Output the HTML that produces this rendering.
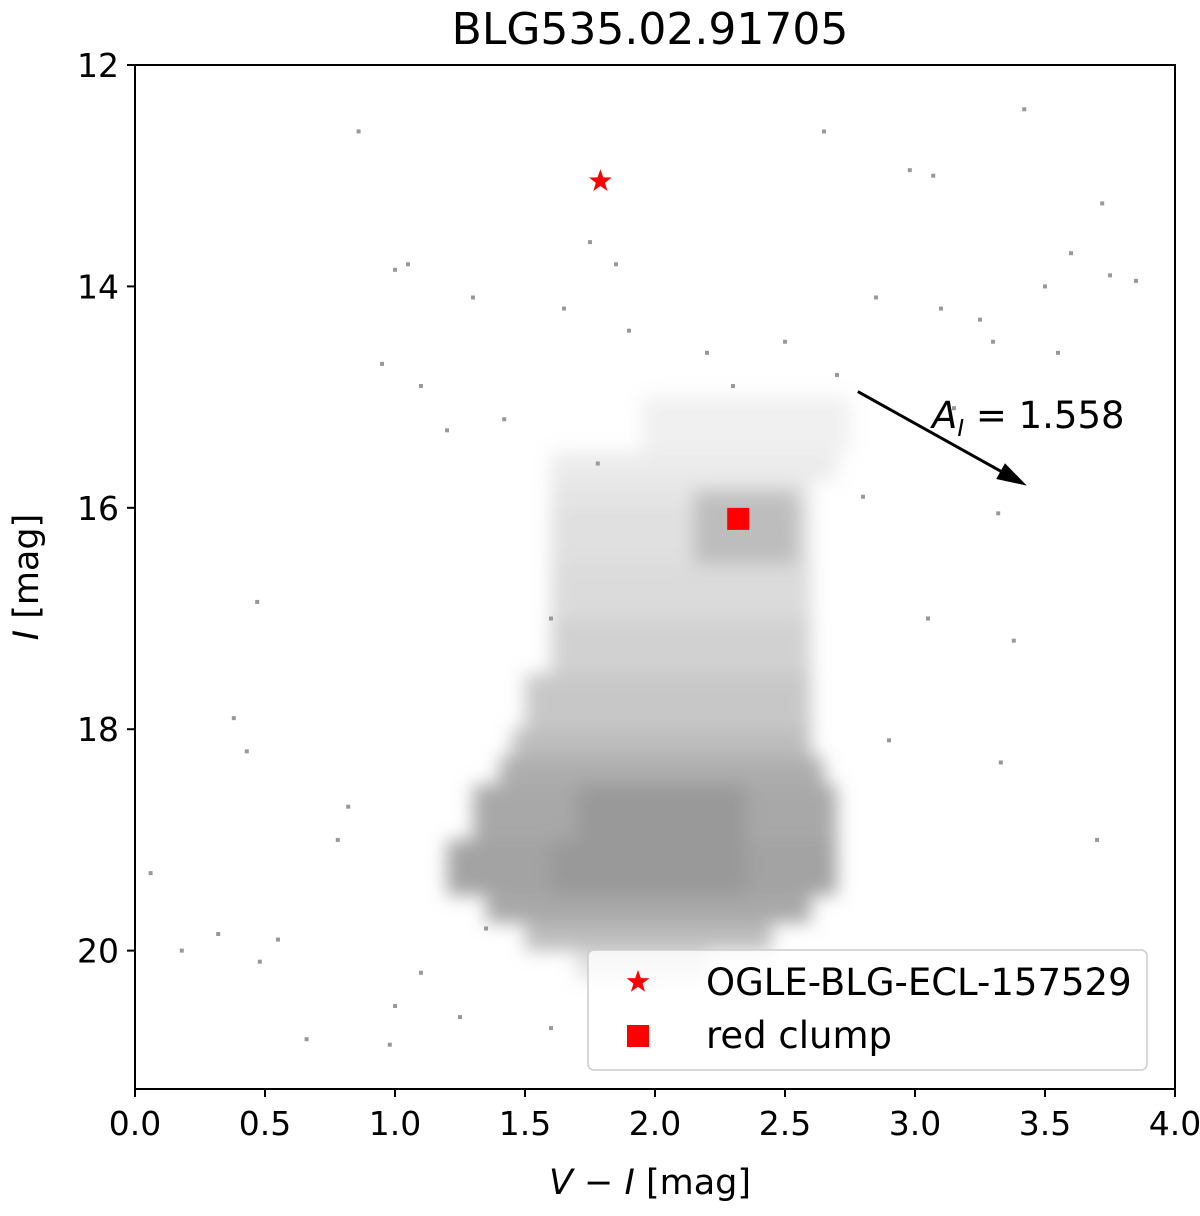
<!DOCTYPE html>
<html><head><meta charset="utf-8"><style>
html,body{margin:0;padding:0;background:#fff;}
svg text{font-family:"DejaVu Sans","Liberation Sans",sans-serif;}
</style></head><body>
<svg id="chart" width="1200" height="1211" viewBox="0 0 1200 1211" xmlns="http://www.w3.org/2000/svg">
<defs><filter id="blur" x="-20%" y="-20%" width="140%" height="140%"><feGaussianBlur stdDeviation="9"/></filter></defs>
<text x="650" y="44" font-size="44" text-anchor="middle">BLG535.02.91705</text>
<g id="plot"><g id="cloud" filter="url(#blur)"></g></g>
<g id="axes"></g>
</svg>
<script>
// density bands of the cloud: magnitude range, colour range, density
const bandMagTop = [15.0,15.5,15.75,16.0,16.5,17.0,17.5,18.0,18.25,18.5,19.0,19.5,19.75,20.0, 15.85,16.0,18.5,19.0];
const bandMagBot = [15.5,15.75,16.0,16.5,17.0,17.5,18.0,18.25,18.5,19.0,19.5,19.75,20.0,20.25, 16.0,16.5,19.0,19.5];
const bandColLo  = [1.95,1.6,1.6,1.6,1.6,1.6,1.5,1.45,1.4,1.3,1.2,1.35,1.5,1.7, 2.15,2.15,1.7,1.6];
const bandColHi  = [2.75,2.7,2.6,2.6,2.6,2.6,2.6,2.6,2.65,2.7,2.7,2.6,2.45,2.2, 2.55,2.55,2.35,2.35];
const bandDensity= [0.15,0.2,0.25,0.3,0.35,0.45,0.55,0.65,0.8,0.85,0.9,0.85,0.65,0.3, 0.5,0.5,1,1];
// sparse stars
const ptCol = [0.86,1.05,0.95,1.1,1.0,1.2,1.3,1.65,1.42,1.75,1.85,2.65,2.98,3.07,3.42,3.72,3.6,3.25,3.1,3.5,3.75,3.85,3.55,3.3,2.7,2.85,0.47,0.38,0.43,0.06,0.18,0.32,0.48,0.55,0.66,0.78,0.82,1.0,1.1,1.25,1.6,3.32,3.38,3.7,3.33,3.05,2.9,0.98,1.35,1.6,2.2,1.9,1.78,2.3,2.5,3.15,2.8];
const ptMag = [12.6,13.8,14.7,14.9,13.85,15.3,14.1,14.2,15.2,13.6,13.8,12.6,12.95,13.0,12.4,13.25,13.7,14.3,14.2,14.0,13.9,13.95,14.6,14.5,14.8,14.1,16.85,17.9,18.2,19.3,20.0,19.85,20.1,19.9,20.8,19.0,18.7,20.5,20.2,20.6,17.0,16.05,17.2,19.0,18.3,17.0,18.1,20.85,19.8,20.7,14.6,14.4,15.6,14.9,14.5,15.1,15.9];
const starPt = [1.79,13.05];
const clumpPt = [2.32,16.1];
const xTicks = [0,0.5,1.0,1.5,2.0,2.5,3.0,3.5,4.0];
const yTicks = [12,14,16,18,20];
const arrowStart=[2.78,14.95], arrowEnd=[3.43,15.8];

const X0=135,X1=1175,Y0=65,Y1=1089;
const xs=v=>X0+(v-0)/4*(X1-X0);
const ys=m=>Y0+(m-12)/(21.25-12)*(Y1-Y0);
const NS="http://www.w3.org/2000/svg";
function mk(t,a,p){const e=document.createElementNS(NS,t);for(const k in a)e.setAttribute(k,a[k]);p.appendChild(e);return e;}
const plot=document.getElementById('plot'), axes=document.getElementById('axes'), cloud=document.getElementById('cloud');
for(let i=0;i<bandMagTop.length;i++){
  const r=mk('rect',{x:xs(bandColLo[i]),y:ys(bandMagTop[i]),width:xs(bandColHi[i])-xs(bandColLo[i]),height:ys(bandMagBot[i])-ys(bandMagTop[i]),fill:'#999',opacity:bandDensity[i]},cloud);
  
  
}
for(let i=0;i<ptCol.length;i++){
  const r=mk('rect',{x:xs(ptCol[i])-2,y:ys(ptMag[i])-2,width:4,height:4,fill:'#999'},plot);
  
  
}
const sq=mk('rect',{x:xs(clumpPt[0])-11,y:ys(clumpPt[1])-11,width:22,height:22,fill:'#f00'},plot);


function starPath(cx,cy,R){let d='';for(let k=0;k<10;k++){const r=k%2?R*0.4:R;const a=-Math.PI/2+k*Math.PI/5;d+=(k?'L':'M')+(cx+r*Math.cos(a))+','+(cy+r*Math.sin(a));}return d+'Z';}
const st=mk('path',{d:starPath(xs(starPt[0]),ys(starPt[1]),12),fill:'#f00'},plot);


const ax1=xs(arrowStart[0]),ay1=ys(arrowStart[1]),ax2=xs(arrowEnd[0]),ay2=ys(arrowEnd[1]);
const ang=Math.atan2(ay2-ay1,ax2-ax1);
const ln=mk('line',{x1:ax1,y1:ay1,x2:ax2-25*Math.cos(ang),y2:ay2-25*Math.sin(ang),stroke:'#000','stroke-width':3},plot);


const hx=ax2-30*Math.cos(ang),hy=ay2-30*Math.sin(ang);
const hd=mk('polygon',{points:`${ax2},${ay2} ${hx-9*Math.sin(ang)},${hy+9*Math.cos(ang)} ${hx+9*Math.sin(ang)},${hy-9*Math.cos(ang)}`,fill:'#000'},plot);


const at=mk('text',{x:932,y:428,'font-size':37},plot);


at.innerHTML='<tspan font-style="italic">A</tspan><tspan font-style="italic" font-size="23" dy="8">I</tspan><tspan dy="-8"> = 1.558</tspan>';
const lg=mk('g',{},plot);


mk('rect',{x:588,y:950,width:559,height:120,rx:6,fill:'#fff','fill-opacity':0.8,stroke:'#ccc','stroke-width':1.5},lg);
mk('path',{d:starPath(638,982,12),fill:'#f00'},lg);
mk('rect',{x:627,y:1025,width:22,height:22,fill:'#f00'},lg);
const l1=mk('text',{x:706,y:995,'font-size':37},lg);l1.textContent='OGLE-BLG-ECL-157529';


const l2=mk('text',{x:706,y:1048,'font-size':37},lg);l2.textContent='red clump';


mk('rect',{x:X0,y:Y0,width:X1-X0,height:Y1-Y0,fill:'none',stroke:'#000','stroke-width':2},axes);
xTicks.forEach(v=>{
  mk('line',{x1:xs(v),y1:Y1,x2:xs(v),y2:Y1+8,stroke:'#000','stroke-width':2},axes);
  const t=mk('text',{x:xs(v),y:Y1+46,'font-size':33,'text-anchor':'middle'},axes);t.textContent=v.toFixed(1);
  
  
});
yTicks.forEach(v=>{
  mk('line',{x1:X0-8,y1:ys(v),x2:X0,y2:ys(v),stroke:'#000','stroke-width':2},axes);
  const t=mk('text',{x:X0-16,y:ys(v)+12,'font-size':33,'text-anchor':'end'},axes);t.textContent=v;
  
  
});
const xt=mk('text',{x:650,y:1194,'font-size':35,'text-anchor':'middle'},axes);
xt.innerHTML='<tspan font-style="italic">V</tspan> − <tspan font-style="italic">I</tspan> [mag]';


const yt=mk('text',{x:0,y:0,'font-size':35,'text-anchor':'middle',transform:'translate(38,577) rotate(-90)'},axes);
yt.innerHTML='<tspan font-style="italic">I</tspan> [mag]';


</script>
</body></html>
